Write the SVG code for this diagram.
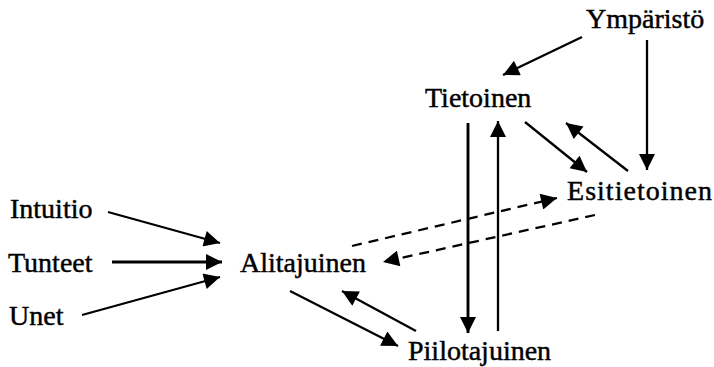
<svg xmlns="http://www.w3.org/2000/svg" width="714" height="367" viewBox="0 0 714 367">
<defs>
<marker id="ah" viewBox="0 0 10 10" refX="10" refY="5" markerWidth="19" markerHeight="16" markerUnits="userSpaceOnUse" orient="auto">
<path d="M0,0 L10,5 L0,10 z" fill="#000"/>
</marker>
</defs>
<style>
text{font-family:"Liberation Serif","Times New Roman",serif;font-size:28px;fill:#000;stroke:#000;stroke-width:0.45}
.c{stroke:#000;stroke-width:2.3;fill:none;marker-end:url(#ah)}
.d{stroke-dasharray:10,7}
</style>
<rect width="714" height="367" fill="#fff"/>
<g id="connectors">
<line class="c" x1="582" y1="37" x2="503" y2="75"/>
<line class="c" x1="647" y1="40" x2="647" y2="170"/>
<line class="c" x1="525" y1="122" x2="587" y2="172"/>
<line class="c" x1="628" y1="171" x2="566" y2="123"/>
<line class="c" x1="468" y1="123" x2="468" y2="333" style="stroke-width:2.9"/>
<line class="c" x1="498" y1="331" x2="498" y2="121"/>
<line class="c d" x1="352" y1="246" x2="557" y2="198"/>
<line class="c d" x1="595" y1="215" x2="383" y2="262"/>
<line class="c" x1="108" y1="212" x2="220" y2="243"/>
<line class="c" x1="112" y1="262" x2="222" y2="262" style="stroke-width:2.9"/>
<line class="c" x1="82" y1="315" x2="220" y2="277"/>
<line class="c" x1="290" y1="291" x2="398" y2="346"/>
<line class="c" x1="416" y1="331" x2="342" y2="291"/>
</g>
<g id="ymparisto"><text x="586" y="28">Ympäristö</text></g>
<g id="tietoinen"><text x="425" y="107">Tietoinen</text></g>
<g id="esitietoinen"><text x="567" y="200" textLength="145">Esitietoinen</text></g>
<g id="intuitio"><text x="10" y="218">Intuitio</text></g>
<g id="tunteet"><text x="8" y="272">Tunteet</text></g>
<g id="unet"><text x="9" y="325">Unet</text></g>
<g id="alitajuinen"><text x="240" y="272">Alitajuinen</text></g>
<g id="piilotajuinen"><text x="408" y="360">Piilotajuinen</text></g>
</svg>
